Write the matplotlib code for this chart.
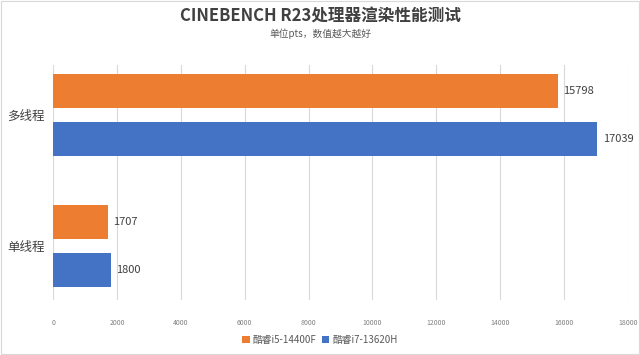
import matplotlib.pyplot as plt
import numpy as np

plt.rcParams['font.family'] = ['Noto Sans CJK SC', 'DejaVu Sans']

categories = ['单线程', '多线程']
series_names = ['酷睿i5-14400F', '酷睿i7-13620H']
i5_values = [1707, 15798]
i7_values = [1800, 17039]
xticks = [0, 2000, 4000, 6000, 8000, 10000, 12000, 14000, 16000, 18000]

orange = '#ED7D31'
blue = '#4472C4'

fig = plt.figure(figsize=(6.4, 3.55), dpi=100)
ax = fig.add_axes([0.083, 0.155, 0.898, 0.662])

y = np.arange(len(categories))
h = 0.26
off = 0.184
b1 = ax.barh(y + off, i5_values, height=h, color=orange, label=series_names[0], zorder=3)
b2 = ax.barh(y - off, i7_values, height=h, color=blue, label=series_names[1], zorder=3)

for bars in (b1, b2):
    for r in bars:
        ax.text(r.get_width() + 180, r.get_y() + r.get_height() / 2, str(int(r.get_width())),
                va='center', ha='left', fontsize=8, color='#404040')

ax.set_xlim(0, 18000)
ax.set_ylim(-0.41, 1.38)
ax.set_xticks(xticks)
ax.set_xticklabels([str(t) for t in xticks], fontsize=5, color='#808080')
ax.set_yticks(y)
ax.set_yticklabels(categories, fontsize=9, color='#404040')
ax.tick_params(axis='both', length=0)
ax.tick_params(axis='x', pad=14)
ax.tick_params(axis='y', pad=6)
ax.grid(axis='x', color='#D9D9D9', linewidth=0.8, zorder=0)
for s in ax.spines.values():
    s.set_visible(False)

fig.text(0.5, 0.955, 'CINEBENCH R23处理器渲染性能测试', ha='center', va='center',
         fontsize=12, color='#404040', fontweight='bold')
fig.text(0.5, 0.905, '单位pts，数值越大越好', ha='center', va='center',
         fontsize=7, color='#595959')

fig.legend(handles=[b1, b2], loc='center', bbox_to_anchor=(0.5, 0.043), ncol=2,
           frameon=False, fontsize=7, handlelength=0.8, handleheight=0.8,
           handletextpad=0.3, columnspacing=0.5, labelcolor='#595959')

fig.patches.append(plt.Rectangle((0.002, 0.003), 0.996, 0.994, transform=fig.transFigure,
                                 fill=False, edgecolor='#D9D9D9', linewidth=0.8))

fig.savefig('out.png', dpi=100)
